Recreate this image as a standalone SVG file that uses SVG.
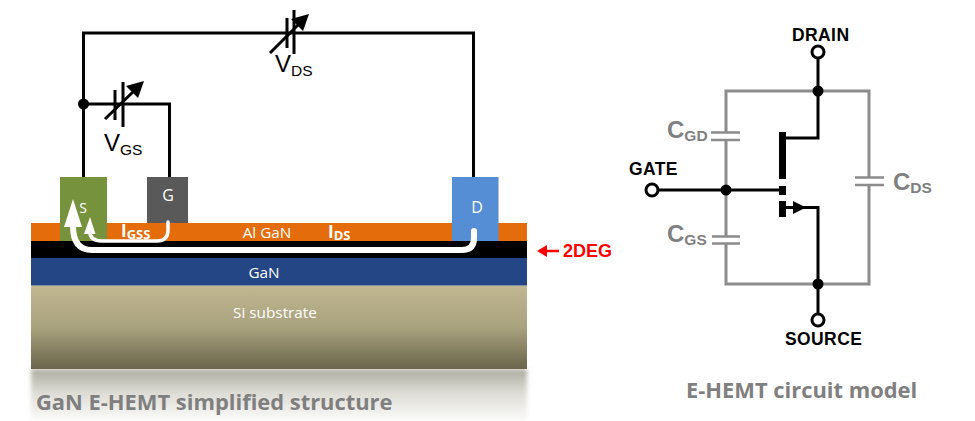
<svg xmlns="http://www.w3.org/2000/svg" width="975" height="421" viewBox="0 0 975 421">
<style>
.w{fill:none;stroke:#000;stroke-width:3}
.g{fill:none;stroke:#8c8c8c;stroke-width:3}
.p{fill:none;stroke:#8c8c8c;stroke-width:2.6}
.d{fill:#000}
.o{fill:#fff;stroke:#000;stroke-width:3}
.cur{fill:none;stroke:#fff;stroke-linecap:round}
.seg{font-family:"Open Sans","Noto Sans",sans-serif}
.lay{font-size:15.300px;fill:#fff;text-anchor:middle}
.ar{font-family:"Liberation Sans",Arial,sans-serif}
.blk{font-weight:bold;font-size:17.500px;fill:#000;letter-spacing:.4px}
.cap{font-size:24px;fill:#808080;font-weight:bold}
.sub{font-size:15.500px;fill:#808080;font-weight:bold}
.ttl{font-size:21.900px;font-weight:bold;fill:#7f7f7f}
</style>
<defs>
<linearGradient id="si" x1="0" y1="0" x2="0" y2="1"><stop offset="0" stop-color="#c1b791"/><stop offset="0.5" stop-color="#a9a27e"/><stop offset="1" stop-color="#6a654b"/></linearGradient>
<linearGradient id="sh" x1="0" y1="0" x2="0" y2="1"><stop offset="0" stop-color="#aeaca0"/><stop offset="0.45" stop-color="#dcdbd4"/><stop offset="1" stop-color="#fbfbfa"/></linearGradient>
<filter id="bl" x="-5%" y="-5%" width="110%" height="110%"><feGaussianBlur stdDeviation="2"/></filter>
</defs>
<g id="structure-layers">
<rect x="31" y="369" width="496" height="52" fill="url(#sh)" filter="url(#bl)"/>
<rect x="31" y="285.500" width="496" height="83.500" fill="url(#si)"/>
<rect x="31" y="258" width="496" height="27.500" fill="#254685"/>
<rect x="31" y="241" width="496" height="17" fill="#000"/>
<rect x="31" y="223" width="496" height="18" fill="#e46c0a"/>
</g>
<g id="source"><rect x="60" y="177" width="47" height="64" fill="#76923c"/><text class="seg lay" x="83" y="213" style="font-size:14px">S</text></g>
<g id="gate"><rect x="147" y="177" width="41" height="46" fill="#595959"/><text class="seg lay" x="168" y="201" style="font-size:16px">G</text></g>
<g id="drain"><rect x="452" y="177" width="46.500" height="64" fill="#558ed5"/><text class="seg lay" x="477" y="213" style="font-size:16px">D</text></g>
<g id="layer-labels">
<text class="seg lay" x="267" y="238">Al GaN</text>
<text class="seg lay" x="264" y="278">GaN</text>
<text class="seg lay" x="275" y="318">Si substrate</text>
<text class="seg" x="121" y="237" font-size="17" font-weight="bold" fill="#fff">I<tspan font-size="13" dy="2">GSS</tspan></text>
<text class="seg" x="328" y="238" font-size="17" font-weight="bold" fill="#fff">I<tspan font-size="13" dy="2">DS</tspan></text>
</g>
<g id="currents">
<path class="cur" stroke-width="6" d="M474 231V238Q474 250 462 250H92Q73 250 73 226"/>
<polygon points="73,199 82,227 64,227" fill="#fff"/>
<path class="cur" stroke-width="3.500" d="M168 222V230Q168 241 157 241H102Q90 241 90 232"/>
<polygon points="90,217 95.500,234 84,234" fill="#fff"/>
</g>
<g id="connectors">
<path class="w" d="M83.500 177V33H473.500V177"/>
<path class="w" d="M83.500 104H169.500V177"/>
<path d="M287 18V48M294 10V54M115 90V120M123 82V127" fill="none" stroke="#000" stroke-width="3"/>
<path class="w" d="M270 53L300 23M105 119L135 90"/>
<polygon points="309,14 303,31 291,19" fill="#000"/>
<polygon points="144,81 138,98 126,86" fill="#000"/>
<circle class="d" cx="83.500" cy="104" r="5.500"/>
<path class="g" d="M726 190V91H869V284H726V190"/>
<path class="w" d="M818 58V138H785M818 284V207.500H786M658 190H780M818 284V314"/>
<rect x="779" y="132" width="7" height="47"/>
<rect x="779" y="186" width="7" height="9"/>
<rect x="779" y="201" width="7" height="16"/>
<polygon points="793,201 806,207.500 793,214"/>
<rect x="709" y="133" width="34" height="6" fill="#fff"/>
<rect x="709" y="237" width="34" height="6" fill="#fff"/>
<rect x="853" y="178" width="34" height="6" fill="#fff"/>
<path class="p" d="M711 132.500H740M711 140H740M712 236.500H740M712 243.500H740M855 177.500H884M855 185H884"/>
<circle class="d" cx="818" cy="91" r="5.500"/>
<circle class="d" cx="818" cy="284" r="5.500"/>
<circle class="d" cx="726" cy="190" r="5.500"/>
<circle class="o" cx="818" cy="52" r="6"/>
<circle class="o" cx="818" cy="320" r="6"/>
<circle class="o" cx="652" cy="190" r="6"/>
<path d="M559 251H541" stroke="#f00" stroke-width="2.500"/>
<polygon points="537,251 547,245 547,257" fill="#f00"/>
</g>
<g id="labels">
<text class="ar" x="275" y="72" font-size="24" fill="#000">V<tspan font-size="15.500" dy="4">DS</tspan></text>
<text class="ar" x="104" y="151" font-size="24" fill="#000">V<tspan font-size="15.500" dy="4">GS</tspan></text>
<text class="ar" x="563" y="257" font-size="18" font-weight="bold" fill="#f00">2DEG</text>
<text class="ar blk" x="792" y="41">DRAIN</text>
<text class="ar blk" x="629" y="175">GATE</text>
<text class="ar blk" x="785" y="344.500">SOURCE</text>
<text class="ar cap" x="667" y="138">C<tspan class="sub" dy="3">GD</tspan></text>
<text class="ar cap" x="667" y="242">C<tspan class="sub" dy="3">GS</tspan></text>
<text class="ar cap" x="893" y="190">C<tspan class="sub" dy="3">DS</tspan></text>
<text class="seg ttl" x="36" y="410">GaN E-HEMT simplified structure</text>
<text class="seg ttl" x="686" y="398">E-HEMT circuit model</text>
</g>
</svg>
